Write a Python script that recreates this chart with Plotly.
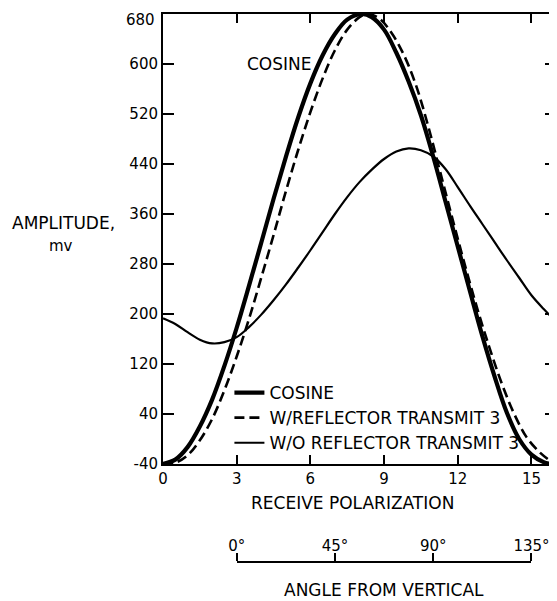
import plotly.graph_objects as go

# ---- data ----
cos_x = [0, 0.5, 1, 1.5, 2, 2.5, 3, 3.5, 4, 4.5, 5, 5.5, 6, 6.5, 7, 7.5, 8.08,
         8.5, 9, 9.5, 10, 10.5, 11, 11.5, 12, 12.5, 13, 13.5, 14, 14.5, 15, 15.5, 15.85]
cos_y = [-40, -33, -13, 20, 63, 117, 178, 245, 314, 384, 451, 514, 569, 614, 648, 671, 680,
         675, 655, 618, 572, 518, 452, 380, 308, 236, 165, 100, 42, 0, -25, -37, -40]

wr_x = [0, 0.5, 1, 1.5, 2, 2.5, 3, 3.5, 4, 4.5, 5, 5.5, 6, 6.5, 7, 7.5, 8, 8.3,
        8.8, 9.3, 9.8, 10.3, 10.8, 11.3, 11.8, 12.3, 12.8, 13.3, 13.8, 14.3, 14.8, 15.3, 15.7, 16]
wr_y = [-40, -38, -26, -2, 32, 78, 132, 192, 258, 326, 396, 462, 523, 577, 622, 655, 675, 680,
        673, 650, 615, 566, 500, 425, 350, 277, 208, 145, 88, 40, 3, -20, -33, -40]

wo_x = [0, 0.5, 1, 1.5, 2, 2.5, 3, 3.5, 4, 4.5, 5, 5.5, 6, 6.5, 7, 7.5, 8, 8.5,
        9, 9.5, 10, 10.5, 11, 11.5, 12, 12.5, 13, 13.5, 14, 14.5, 15, 15.5, 16]
wo_y = [193, 184, 171, 159, 153, 155, 163, 179, 199, 222, 247, 274, 302, 331, 360, 387, 411, 431,
        448, 460, 465, 462, 452, 432, 403, 373, 344, 315, 286, 258, 230, 208, 188]

y_ticks = [-40, 40, 120, 200, 280, 360, 440, 520, 600, 680]
y_labels = ["-40", "40", "120", "200", "280", "360", "440", "520", "600", ""]
top_label = "680"   # drawn separately, a little below its tick as in the original
x_ticks = [0, 3, 6, 9, 12, 15]
angle_ticks = [0, 45, 90, 135]
angle_labels = ["0°", "45°", "90°", "135°"]

names = ["COSINE", "W/REFLECTOR TRANSMIT 3", "W/O REFLECTOR TRANSMIT 3"]

# ---- layout geometry (reference pixels; page body adds an 8px offset) ----
O = 8
W, H = 557 - O, 601 - O
plot_left, plot_right, plot_top, plot_bottom = 162.5, 556, 14, 464
paper_bottom = 575
L = plot_left - O
R = W - (plot_right - O)
T = plot_top - O
B = H - (paper_bottom - O)
plot_w = W - L - R
paper_h = H - T - B


def px(xp):
    return (xp - O - L) / plot_w


def py(yp):
    return (H - B - (yp - O)) / paper_h


FONT = "DejaVu Sans"
fig = go.Figure()

fig.add_trace(go.Scatter(x=cos_x, y=cos_y, mode="lines", name=names[0],
                         line=dict(color="black", width=4.2, shape="spline", smoothing=1.0)))
fig.add_trace(go.Scatter(x=wr_x, y=wr_y, mode="lines", name=names[1],
                         line=dict(color="black", width=2.6, dash="10px,5px",
                                   shape="spline", smoothing=1.0)))
fig.add_trace(go.Scatter(x=wo_x, y=wo_y, mode="lines", name=names[2],
                         line=dict(color="black", width=2.2, shape="spline", smoothing=1.0)))
# carrier for the angle scale axis (draws nothing)
fig.add_trace(go.Scatter(x=angle_ticks, y=[0] * len(angle_ticks), mode="none",
                         xaxis="x2", yaxis="y2", showlegend=False, hoverinfo="skip"))

axis_common = dict(showgrid=False, zeroline=False, showline=True, linecolor="black",
                   linewidth=2, mirror="ticks", ticks="inside", tickcolor="black",
                   tickwidth=1.5, ticklabeloverflow="allow",
                   tickfont=dict(family=FONT, size=15, color="black"))

fig.update_layout(
    width=W, height=H,
    margin=dict(l=L, r=R, t=T, b=B, autoexpand=False),
    paper_bgcolor="white", plot_bgcolor="rgba(0,0,0,0)",
    font=dict(family=FONT, size=15, color="black"),
    xaxis=dict(range=[0, 16], tickvals=x_ticks, ticklen=9, **axis_common),
    yaxis=dict(range=[-40, 680], tickvals=y_ticks, ticktext=y_labels, ticklen=11,
               domain=[py(plot_bottom), 1], **axis_common),
    xaxis2=dict(range=[0, 135], domain=[3 / 16, 15 / 16], anchor="y2", side="top",
                showline=True, linecolor="black", linewidth=1.5,
                ticks="outside", ticklen=8, tickwidth=1.5, tickcolor="black",
                ticklabeloverflow="allow", ticklabelstandoff=-4,
                tickvals=angle_ticks, ticktext=angle_labels, showgrid=False, zeroline=False,
                tickfont=dict(family=FONT, size=15, color="black")),
    yaxis2=dict(domain=[0, py(563)], visible=False, range=[-1, 1]),
    showlegend=True,
    legend=dict(x=px(229), y=py(375), xanchor="left", yanchor="top",
                bgcolor="rgba(0,0,0,0)", itemwidth=30,
                font=dict(family=FONT, size=17, color="black")),
)

annos = [
    dict(text="RECEIVE POLARIZATION", x=px(352), y=py(503), size=17, xa="center"),
    dict(text="ANGLE FROM VERTICAL", x=px(384), y=py(590), size=17, xa="center"),
    dict(text="AMPLITUDE,", x=px(63), y=py(223), size=17, xa="center"),
    dict(text="mv", x=px(60), y=py(246), size=15, xa="center"),
    dict(text="COSINE", x=px(279), y=py(64), size=17, xa="center"),
    dict(text=top_label, x=px(156), y=py(20), size=15, xa="right"),
]
for a in annos:
    fig.add_annotation(text=a["text"], x=a["x"], y=a["y"], xref="paper", yref="paper",
                       showarrow=False, xanchor=a["xa"], yanchor="middle",
                       font=dict(family=FONT, size=a["size"], color="black"))

fig.write_html("out.html")
